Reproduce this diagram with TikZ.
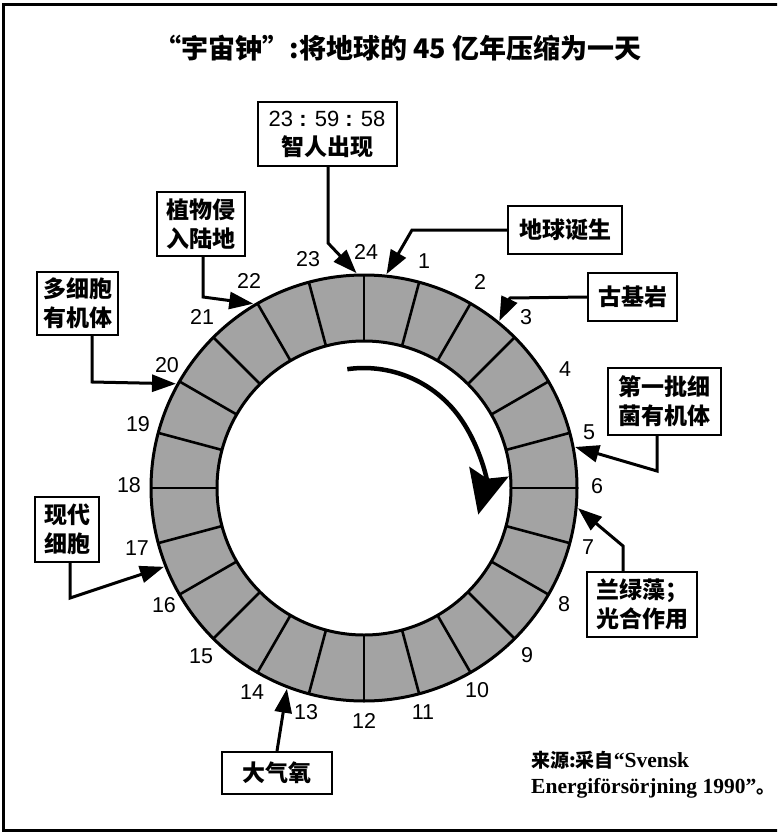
\documentclass[tikz,border=0pt]{standalone}
\usepackage{fontspec}
\setmainfont{Liberation Serif}
\setsansfont{Liberation Sans}
\newfontfamily\cjk{Noto Sans CJK SC}
\usetikzlibrary{arrows.meta,calc}
\begin{document}
\begin{tikzpicture}[x=1pt,y=-1pt,
  lbl/.style={font=\fontsize{21.5}{21.5}\sffamily\selectfont,inner sep=0pt},
  evbox/.style={draw,line width=2pt,font=\fontsize{23}{29}\cjk\bfseries\selectfont,align=center,inner sep=0pt},
  pointer/.style={line width=3pt,-{Triangle[length=24pt,width=17pt]}},
]
\useasboundingbox (0,0) rectangle (777,834);
\begin{scope}
\clip (0,0) rectangle (777,834);
\draw[line width=3pt] (3,5) rectangle (790,830);
\end{scope}
\node[font=\fontsize{27}{27}\cjk\bfseries\selectfont] (title) at (398,48) {“宇宙钟”:将地球的 45 亿年压缩为一天};
\coordinate (c) at (364,488);
% ring
\fill[black!36,even odd rule] (c) circle[radius=213] (c) circle[radius=147];
\foreach \h in {0,...,23}{
  \draw[line width=2.6pt] ($(c)+(-90+15*\h:147)$) -- ($(c)+(-90+15*\h:213)$);
}
\draw[line width=3pt] (c) circle[radius=213];
\draw[line width=3pt] (c) circle[radius=147];
% hour labels
\foreach \h/\x/\y in {1/424/261,2/480/282,3/526/317,4/565/369,5/589/432,6/597/486,7/588/547,8/564/604,9/527/655,10/477/690,11/423/712,12/364/721,13/306/712,14/252/692,15/201/656,16/164/605,17/137/548,18/129/485,19/138/424,20/167/365,21/202/317,22/249/281,23/308/259,24/366/252}{
  \node[lbl] (h\h) at (\x,\y) {\h};
}
% inner arrow
\draw[line width=4.5pt,-{Stealth[length=44pt,width=40pt,inset=7pt]}] ($(c)+(-98:120)$) arc[start angle=-98,end angle=14,radius=118];
% ring anchor points
\coordinate (p24) at ($(c)+(-92:215)$);
\coordinate (p1) at ($(c)+(-84:215)$);
\coordinate (p3) at ($(c)+(-51:215)$);
\coordinate (p5) at ($(c)+(-11:215)$);
\coordinate (p7) at ($(c)+(5.4:215)$);
\coordinate (p13) at ($(c)+(111:215)$);
\coordinate (p17) at ($(c)+(158.5:215)$);
\coordinate (p20) at ($(c)+(209:215)$);
\coordinate (p22) at ($(c)+(239:215)$);
% boxes
\node[evbox,minimum width=139,minimum height=64,font=\fontsize{22}{29}\sffamily\selectfont] (sap) at (327,134) {23 \textbf{:} 59 \textbf{:} 58\\{\fontsize{23}{29}\cjk\bfseries\selectfont 智人出现}};
\node[evbox,minimum width=114,minimum height=47] (earth) at (565,230) {地球诞生};
\node[evbox,minimum width=89,minimum height=48] (rock) at (632.5,297) {古基岩};
\node[evbox,minimum width=113,minimum height=67] (bact) at (664,401.5) {第一批细\\菌有机体};
\node[evbox,minimum width=110,minimum height=65] (algae) at (642,604.5) {兰绿藻；\\光合作用};
\node[evbox,minimum width=110,minimum height=42] (oxy) at (277,773) {大气氧};
\node[evbox,minimum width=64,minimum height=65] (cell) at (67,529.5) {现代\\细胞};
\node[evbox,minimum width=81,minimum height=63] (multi) at (77.5,303.5) {多细胞\\有机体};
\node[evbox,minimum width=88,minimum height=64] (plant) at (201,224) {植物侵\\入陆地};
% connectors
\draw[pointer] (sap.south -| 328,0) -- (328,243) -- (p24);
\draw[pointer] (earth.west) -- (412,230) -- (p1);
\draw[pointer] (rock.west) -- (510,298) -- (p3);
\draw[pointer] (bact.south -| 657,0) -- (657,471) -- (p5);
\draw[pointer] (algae.north -| 623,0) -- (623,546) -- (p7);
\draw[pointer] (oxy.north) -- (p13);
\draw[pointer] (cell.south -| 70,0) -- (70,598) -- (p17);
\draw[pointer] (multi.south -| 92,0) -- (92,382) -- (p20);
\draw[pointer] (plant.south -| 203,0) -- (203,297) -- (p22);
% source
\node[anchor=north west,align=left,inner sep=0pt,font=\fontsize{21.5}{26}\selectfont\bfseries] (src) at (531,751)
  {{\fontsize{19}{26}\cjk\selectfont 来源:采自}“Svensk\\Energiförsörjning 1990”{\fontsize{19}{26}\cjk\selectfont 。}};
\end{tikzpicture}
\end{document}
